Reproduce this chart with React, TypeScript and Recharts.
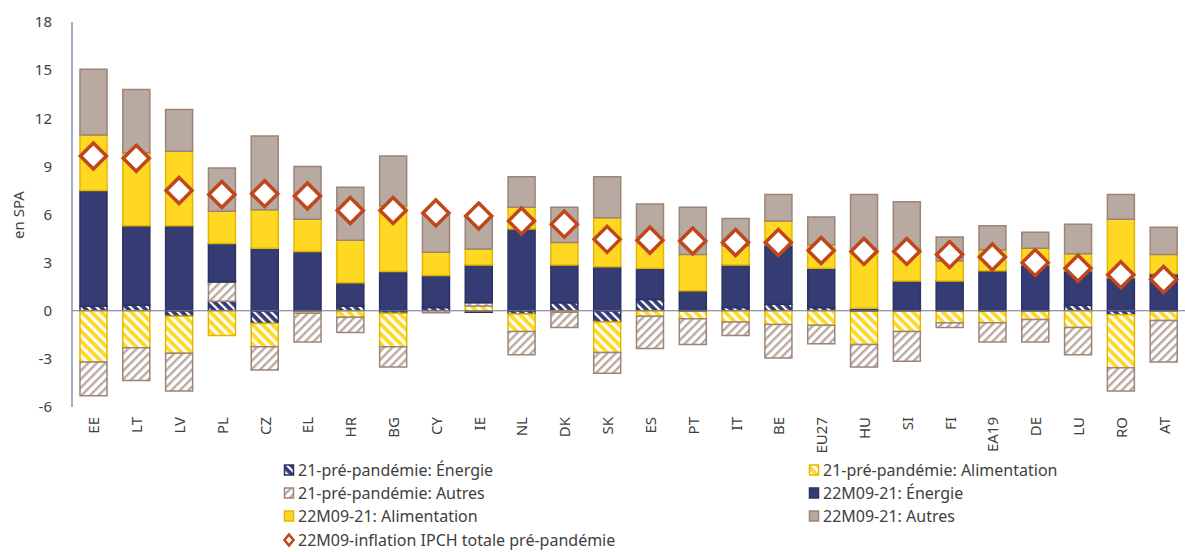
import React from "react";
import { ComposedChart, Bar, Line, XAxis, YAxis, ReferenceLine, Label } from "recharts";

// pays (ordre du graphique)
const countries = ["EE", "LT", "LV", "PL", "CZ", "EL", "HR", "BG", "CY", "IE", "NL", "DK", "SK", "ES", "PT", "IT", "BE", "EU27", "HU", "SI", "FI", "EA19", "DE", "LU", "RO", "AT"];

// 21 vs pré-pandémie
const preEnergy = [0.3, 0.35, -0.35, 0.6, -0.8, 0, 0.3, -0.15, 0.2, -0.1, -0.2, 0.5, -0.7, 0.7, 0, 0.2, 0.4, 0.2, 0, 0, 0, 0, 0, 0.35, -0.25, 0];
const preFood = [-3.2, -2.3, -2.3, -1.55, -1.45, -0.15, -0.4, -2.1, 0, 0.3, -1.1, -0.1, -1.9, -0.35, -0.5, -0.7, -0.85, -0.9, -2.1, -1.3, -0.75, -0.75, -0.55, -1.05, -3.3, -0.6];
const preOther = [-2.1, -2.05, -2.35, 1.2, -1.45, -1.8, -0.95, -1.25, -0.12, 0.2, -1.45, -0.95, -1.3, -2.0, -1.6, -0.85, -2.1, -1.15, -1.4, -1.85, -0.3, -1.2, -1.4, -1.7, -1.45, -2.6];

// 22M09 vs 21
const energy = [7.2, 4.95, 5.3, 2.4, 3.9, 3.7, 1.45, 2.45, 2.0, 2.35, 5.1, 2.35, 2.75, 1.95, 1.25, 2.65, 3.7, 2.45, 0.15, 1.85, 1.85, 2.5, 2.85, 2.15, 2.05, 2.3];
const food = [3.45, 4.55, 4.65, 2.0, 2.4, 2.0, 2.65, 4.1, 1.45, 1.0, 1.35, 1.4, 3.05, 1.95, 2.25, 1.2, 1.5, 1.45, 3.75, 1.8, 1.25, 1.3, 1.05, 1.05, 3.65, 1.2];
const other = [4.1, 3.95, 2.6, 2.7, 4.6, 3.3, 3.3, 3.1, 2.45, 2.05, 1.9, 2.2, 2.55, 2.05, 2.95, 1.7, 1.65, 1.75, 3.35, 3.15, 1.5, 1.5, 1.0, 1.85, 1.55, 1.7];

// inflation IPCH totale 22M09 vs pré-pandémie
const total = [9.65, 9.5, 7.5, 7.25, 7.3, 7.15, 6.25, 6.25, 6.1, 5.9, 5.6, 5.4, 4.45, 4.4, 4.35, 4.25, 4.25, 3.75, 3.7, 3.7, 3.5, 3.35, 3.0, 2.65, 2.25, 1.95];

const yTicks = [-6, -3, 0, 3, 6, 9, 12, 15, 18];

const data = countries.map((c, i) => ({
  country: c,
  preEnergy: preEnergy[i],
  preFood: preFood[i],
  preOther: preOther[i],
  energy: energy[i],
  food: food[i],
  other: other[i],
  total: total[i],
}));

const bars = [
  { key: "preEnergy", name: "21-pré-pandémie: Énergie", fill: "url(#hNavy)", stroke: "#2C3163" },
  { key: "preFood", name: "21-pré-pandémie: Alimentation", fill: "url(#hYellow)", stroke: "#E3B600" },
  { key: "preOther", name: "21-pré-pandémie: Autres", fill: "url(#hGray)", stroke: "#9C8478" },
  { key: "energy", name: "22M09-21: Énergie", fill: "#353B73", stroke: "#2C3163" },
  { key: "food", name: "22M09-21: Alimentation", fill: "#FFD824", stroke: "#E3B600" },
  { key: "other", name: "22M09-21: Autres", fill: "#B8A9A1", stroke: "#9C8478" },
];

const DIAMOND = "#C0461B";

function Diamond(props: any) {
  const { cx, cy } = props;
  if (cx == null || cy == null) return null;
  const r = 13;
  return (
    <polygon
      points={`${cx},${cy - r} ${cx + r},${cy} ${cx},${cy + r} ${cx - r},${cy}`}
      fill="#fff"
      stroke={DIAMOND}
      strokeWidth={3.5}
    />
  );
}

function CountryTick(props: any) {
  const { x, y, payload } = props;
  return (
    <text
      x={x}
      y={y + 2}
      transform={`rotate(-90 ${x} ${y + 2})`}
      textAnchor="end"
      dominantBaseline="central"
      fontSize={15}
      fill="#404040"
    >
      {payload.value}
    </text>
  );
}

function LegendIcon({ item }: { item: any }) {
  if (item.key === "total") {
    return (
      <svg width={12} height={14} style={{ marginRight: 3 }}>
        <polygon points="6,1.5 10.5,7 6,12.5 1.5,7" fill="#fff" stroke={DIAMOND} strokeWidth={2.5} />
      </svg>
    );
  }
  return (
    <svg width={12} height={14} style={{ marginRight: 3 }}>
      <rect x={1.5} y={2} width={9} height={10} fill={item.fill} stroke={item.stroke} strokeWidth={1.5} />
    </svg>
  );
}

const legendItems = [...bars, { key: "total", name: "22M09-inflation IPCH totale pré-pandémie", fill: "#fff", stroke: DIAMOND }];

export default function App() {
  return (
    <div style={{ position: "absolute", left: 0, top: 0, width: 1185, height: 552, background: "#fff", fontFamily: "'Noto Sans', sans-serif", overflow: "hidden" }}>
      <ComposedChart
        width={1185}
        height={552}
        data={data}
        stackOffset="sign"
        margin={{ top: 22, right: 0, left: 0, bottom: 95 }}
      >
        <defs>
          <pattern id="hNavy" width="6" height="6" patternUnits="userSpaceOnUse" patternTransform="rotate(-45)">
            <rect width="6" height="6" fill="#353B73" />
            <rect width="2.2" height="6" fill="#fff" />
          </pattern>
          <pattern id="hYellow" width="7" height="7" patternUnits="userSpaceOnUse" patternTransform="rotate(-45)">
            <rect width="7" height="7" fill="#FFD824" />
            <rect width="3.2" height="7" fill="#fff" />
          </pattern>
          <pattern id="hGray" width="6" height="6" patternUnits="userSpaceOnUse" patternTransform="rotate(45)">
            <rect width="6" height="6" fill="#fff" />
            <rect width="2.4" height="6" fill="#B8A9A1" />
          </pattern>
        </defs>
        <XAxis
          dataKey="country"
          axisLine={false}
          tickLine={false}
          interval={0}
          height={50}
          tick={<CountryTick />}
        />
        <YAxis
          width={72}
          domain={[-6, 18]}
          ticks={yTicks}
          interval={0}
          axisLine={{ stroke: "#8A8FB0", strokeWidth: 1.5 }}
          tickLine={false}
          tickMargin={14}
          tick={{ fontSize: 15, fill: "#404040" }}
          label={
            <Label
              content={() => (
                <text x={18} y={215} transform="rotate(-90 18 215)" textAnchor="middle" dominantBaseline="central" fontSize={15} fill="#404040">
                  en SPA
                </text>
              )}
            />
          }
        />
        {bars.map((b) => (
          <Bar
            key={b.key}
            dataKey={b.key}
            name={b.name}
            stackId="a"
            barSize={27}
            fill={b.fill}
            stroke={b.stroke}
            strokeWidth={1.5}
            isAnimationActive={false}
          />
        ))}
        <ReferenceLine y={0} stroke="#6E7399" strokeWidth={1.2} />
        <Line
          dataKey="total"
          name="22M09-inflation IPCH totale pré-pandémie"
          stroke="none"
          dot={<Diamond />}
          activeDot={false}
          isAnimationActive={false}
        />
      </ComposedChart>
      <div
        style={{
          position: "absolute",
          left: 283,
          top: 462,
          display: "grid",
          gridTemplateColumns: "525px 320px",
          rowGap: 7.2,
          fontSize: 16,
          lineHeight: "16px",
          color: "#404040",
        }}
      >
        {legendItems.map((it) => (
          <div key={it.key} style={{ display: "flex", alignItems: "center", height: 16, whiteSpace: "nowrap" }}>
            <LegendIcon item={it} />
            <span>{it.name}</span>
          </div>
        ))}
      </div>
    </div>
  );
}
